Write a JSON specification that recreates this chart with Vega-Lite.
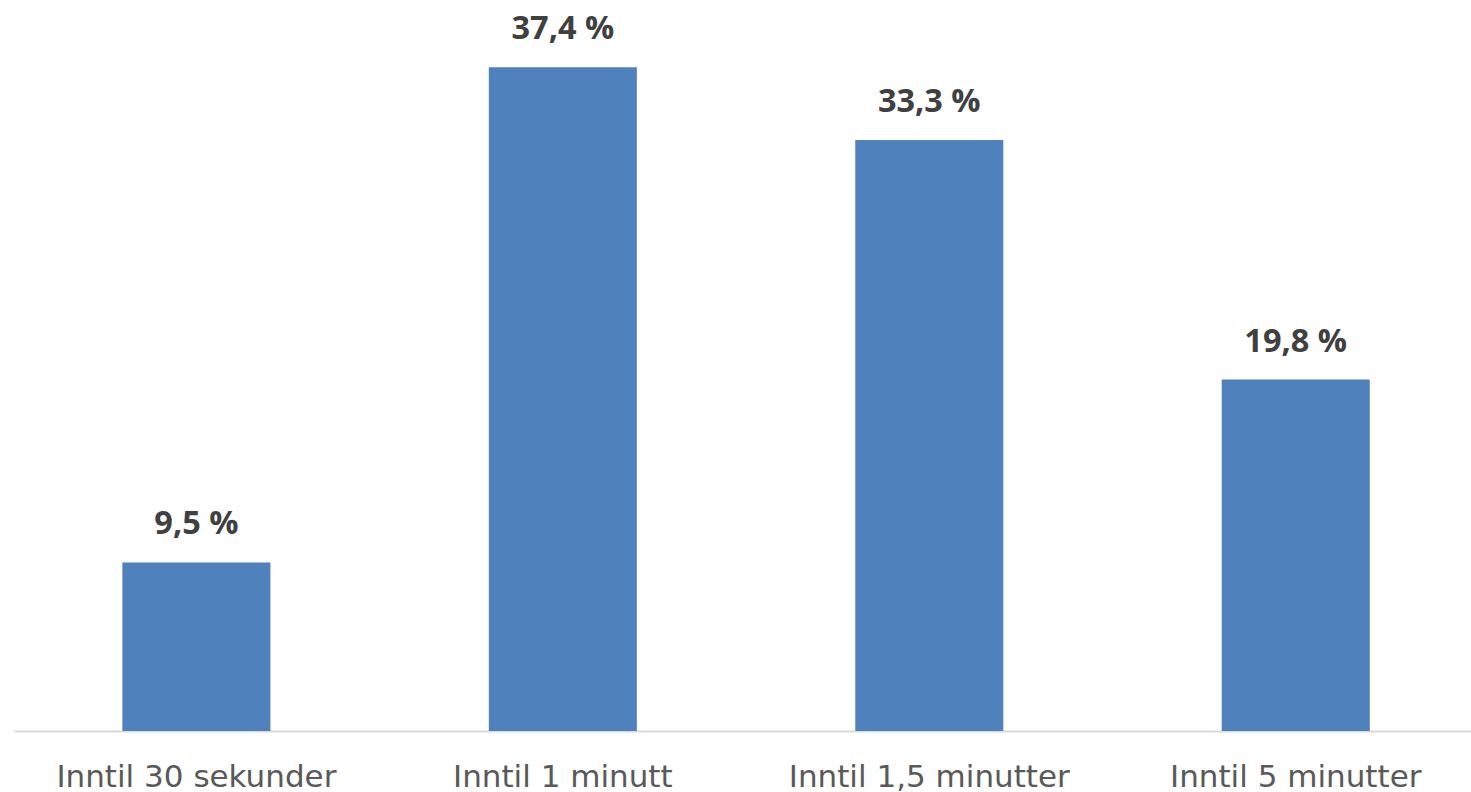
{
  "$schema": "https://vega.github.io/schema/vega-lite/v6.json",
  "autosize": "none",
  "padding": {"left": 14, "top": 21, "right": 0, "bottom": 61},
  "width": 1457,
  "height": 710,
  "background": "white",
  "config": {"view": {"stroke": null}},
  "data": {
    "values": [
      {"kategori": "Inntil 30 sekunder", "andel": 9.5, "etikett": "9,5 %"},
      {"kategori": "Inntil 1 minutt", "andel": 37.4, "etikett": "37,4 %"},
      {"kategori": "Inntil 1,5 minutter", "andel": 33.3, "etikett": "33,3 %"},
      {"kategori": "Inntil 5 minutter", "andel": 19.8, "etikett": "19,8 %"}
    ]
  },
  "encoding": {
    "x": {
      "field": "kategori",
      "type": "nominal",
      "sort": null,
      "scale": {"paddingInner": 0.596, "paddingOuter": 0.286, "align": 0.517},
      "axis": {
        "title": null,
        "labelAngle": 0,
        "labelLimit": 0,
        "ticks": false,
        "grid": false,
        "domainColor": "#d9d9d9",
        "domainWidth": 2,
        "labelFont": "DejaVu Sans",
        "labelFontSize": 31,
        "labelColor": "#595959",
        "labelBaseline": "alphabetic",
        "labelPadding": 55
      }
    },
    "y": {
      "field": "andel",
      "type": "quantitative",
      "scale": {"domain": [0, 40], "nice": false},
      "axis": null
    }
  },
  "layer": [
    {"mark": {"type": "bar", "color": "#4f81bd"}},
    {
      "mark": {
        "type": "text",
        "baseline": "alphabetic",
        "dy": -28,
        "font": "Open Sans",
        "fontSize": 32.5,
        "fontWeight": "bold",
        "color": "#404040"
      },
      "encoding": {"text": {"field": "etikett"}}
    }
  ]
}
